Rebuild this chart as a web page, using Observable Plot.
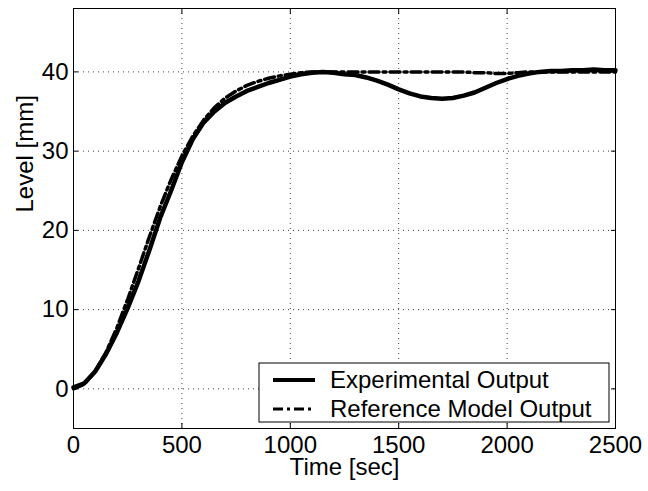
<!DOCTYPE html>
<html><head><meta charset="utf-8">
<script src="https://cdn.jsdelivr.net/npm/d3@7"></script>
<script src="https://cdn.jsdelivr.net/npm/@observablehq/plot@0.6"></script>
<style>html,body{margin:0;padding:0;background:#fff}</style>
</head><body><div id="chart"></div>
<script>
const time = [0,50,100,150,200,250,300,350,400,450,500,550,600,650,700,750,800,850,900,950,
  1000,1050,1100,1150,1200,1250,1300,1350,1400,1450,1500,1550,1600,1650,1700,1750,1800,1850,1900,1950,
  2000,2050,2100,2150,2200,2250,2300,2350,2400,2450,2500];
const experimental = [0.2,0.7,2.2,4.4,7.1,10.2,13.6,17.5,21.6,25.0,28.6,31.5,33.6,35.0,36.1,36.9,37.6,38.1,38.6,39.0,
  39.4,39.7,39.9,40.0,39.9,39.7,39.6,39.3,38.9,38.4,37.8,37.3,36.9,36.7,36.6,36.7,37.0,37.4,38.0,38.6,
  39.1,39.5,39.8,40.0,40.1,40.1,40.2,40.2,40.3,40.2,40.2];
const reference = [0.0,0.6,2.2,4.6,7.7,11.3,15.2,19.2,23.0,26.4,29.4,31.9,33.9,35.5,36.7,37.6,38.3,38.8,39.2,39.5,
  39.7,39.9,40.0,40.0,40.0,40.0,40.0,40.0,40.0,40.0,40.0,40.0,40.0,40.0,40.0,40.0,40.0,39.9,39.9,39.8,
  39.8,39.9,40.0,40.0,40.0,40.0,40.0,40.0,40.0,40.0,40.0];
const xTicks = [0,500,1000,1500,2000,2500];
const yTicks = [0,10,20,30,40];
const seriesNames = ["Experimental Output","Reference Model Output"];
const xLabel = "Time [sec]";
const yLabel = "Level [mm]";

const rows = time.map((t,i)=>({t, exp: experimental[i], ref: reference[i]}));
const font = "'Liberation Sans', Arial, Helvetica, sans-serif";
const gridStyle = {stroke:"#000", strokeOpacity:0.75, strokeDasharray:"1,4", strokeWidth:1};
const dashDot = "10,4,3,4";
const fmt = d3.format("d");

const chart = Plot.plot({
  width: 648, height: 491,
  marginLeft: 73, marginRight: 33, marginTop: 8, marginBottom: 63,
  style: {fontFamily: font, fontSize: "24px", background: "#fff", color: "#000"},
  x: {domain: [0, 2500]},
  y: {domain: [-5, 48]},
  marks: [
    Plot.gridX(xTicks.slice(1, -1), gridStyle),
    Plot.gridY(yTicks, gridStyle),
    Plot.line(rows, {x: "t", y: "exp", stroke: "#000", strokeWidth: 4.5, strokeLinejoin: "round"}),
    Plot.line(rows, {x: "t", y: "ref", stroke: "#000", strokeWidth: 3.5, strokeDasharray: dashDot}),
    Plot.frame({stroke: "#000", strokeWidth: 1}),
    Plot.axisX(xTicks, {anchor: "bottom", tickSize: -5, tickPadding: 12, tickFormat: fmt, label: null, fontSize: 24}),
    Plot.axisX(xTicks, {anchor: "top", tickSize: -5, tickFormat: () => "", label: null}),
    Plot.axisY(yTicks, {anchor: "left", tickSize: -5, tickPadding: 10, tickFormat: fmt, label: null, fontSize: 24}),
    Plot.axisY(yTicks, {anchor: "right", tickSize: -5, tickFormat: () => "", label: null}),
    Plot.text([xLabel], {text: d => d, frameAnchor: "bottom", dy: 39, lineAnchor: "middle", fontSize: 24}),
    Plot.text([yLabel], {text: d => d, frameAnchor: "left", dx: -48, dy: -6, rotate: -90, lineAnchor: "middle", fontSize: 24})
  ]
});
document.getElementById("chart").appendChild(chart);

// legend inside plot area (bottom-right)
const svgSel = d3.select(chart);
const xr = chart.scale("x").range, yr = chart.scale("y").range;
const lgRight = Math.max(...xr) - 6, lgBottom = Math.max(...yr) - 6;
const lgW = 350, lgH = 59;
const lgLeft = lgRight - lgW, lgTop = lgBottom - lgH;
const lg = svgSel.append("g").attr("font-family", font).attr("font-size", 24).attr("text-anchor", "start");
lg.append("rect").attr("x", lgLeft).attr("y", lgTop).attr("width", lgW).attr("height", lgH)
  .attr("fill", "#fff").attr("stroke", "#000").attr("stroke-width", 1);
const entries = [
  {name: seriesNames[0], w: 4, dash: null},
  {name: seriesNames[1], w: 3, dash: dashDot}
];
entries.forEach((e, i) => {
  const cy = lgTop + 17 + i * 29;
  lg.append("line").attr("x1", lgLeft + 14).attr("x2", lgLeft + 56).attr("y1", cy).attr("y2", cy)
    .attr("stroke", "#000").attr("stroke-width", e.w).attr("stroke-dasharray", e.dash);
  lg.append("text").attr("x", lgLeft + 71).attr("y", cy).attr("dy", "0.35em").attr("fill", "#000")
    .attr("text-anchor", "start").text(e.name);
});
</script>
</body></html>
